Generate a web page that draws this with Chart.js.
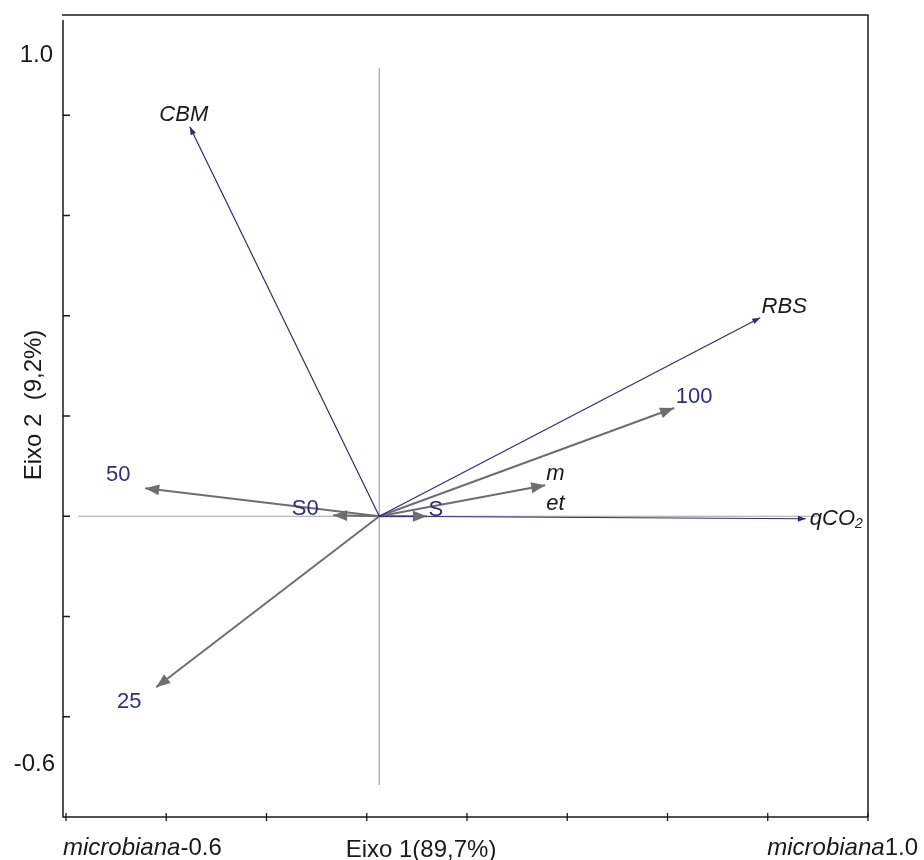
<!DOCTYPE html>
<html>
<head>
<meta charset="utf-8">
<script src="https://cdn.jsdelivr.net/npm/chart.js@4.4.1/dist/chart.umd.min.js"></script>
<style>
  body { margin: 0; background: #fff; }
  canvas { display: block; }
</style>
</head>
<body>
<canvas id="biplot" width="924" height="860"></canvas>
<script>
// Biplot - eixo 1 x eixo 2
const originX = 0.025;
const originY = 0;

// variaveis (setas azuis)
const varNames = ['CBM', 'RBS', 'qCO2'];
const varX = [-0.353, 0.785, 0.876];
const varY = [0.777, 0.396, -0.005];

// tratamentos (setas cinza)
const trtNames = ['50', 'S0', 'S', '25', '100', 'met'];
const trtX = [-0.442, -0.067, 0.120, -0.420, 0.613, 0.356];
const trtY = [0.056, 0.002, 0.0, -0.341, 0.216, 0.062];

const axisTicks = [-0.6, -0.4, -0.2, 0, 0.2, 0.4, 0.6, 0.8, 1.0];
const xTickLabels = ['microbiana-0.6', 'microbiana1.0'];
const yTickLabels = ['1.0', '-0.6'];

// linhas de referencia
const crossH = [-0.576, 0.900];
const crossV = [0.894, -0.536];

const navy = '#2b2d74';
const grey = '#6e6e72';
const labelNavy = '#2e3276';

// deslocamento dos rotulos (px) a partir da ponta da seta
const varLabelOffset = [[-6, -12], [24, -11], [4, 0]];
const trtLabelOffset = [[-27, -13], [-28, -6], [9, -6], [-27, 15], [20, -11], [1, 0]];

const datasets = [];
varNames.forEach((n, i) => {
  datasets.push({
    label: n, kind: 'var', idx: i,
    data: [{ x: originX, y: originY }, { x: varX[i], y: varY[i] }],
    showLine: true, borderColor: navy, borderWidth: 1.2, pointRadius: 0, order: 1
  });
});
trtNames.forEach((n, i) => {
  datasets.push({
    label: n, kind: 'trt', idx: i,
    data: [{ x: originX, y: originY }, { x: trtX[i], y: trtY[i] }],
    showLine: true, borderColor: grey, borderWidth: 2, pointRadius: 0, order: 2
  });
});
datasets.push({
  label: 'h', kind: 'ref',
  data: [{ x: crossH[0], y: originY }, { x: crossH[1], y: originY }],
  showLine: true, borderColor: '#a3a3a3', borderWidth: 1.2, pointRadius: 0, order: 5
});
datasets.push({
  label: 'v', kind: 'ref',
  data: [{ x: originX, y: crossV[0] }, { x: originX, y: crossV[1] }],
  showLine: true, borderColor: '#a3a3a3', borderWidth: 1.2, pointRadius: 0, order: 5
});

function arrowHead(ctx, x0, y0, x1, y1, len, half, color) {
  const a = Math.atan2(y1 - y0, x1 - x0);
  ctx.save();
  ctx.translate(x1, y1);
  ctx.rotate(a);
  ctx.fillStyle = color;
  ctx.beginPath();
  ctx.moveTo(0, 0);
  ctx.lineTo(-len, -half);
  ctx.lineTo(-len, half);
  ctx.closePath();
  ctx.fill();
  ctx.restore();
}

const frame = {
  id: 'frame',
  afterDatasetsDraw(chart) {
    const ctx = chart.ctx;
    const xs = chart.scales.x, ys = chart.scales.y;
    const a = chart.chartArea;

    // setas e rotulos
    chart.data.datasets.forEach((ds, di) => {
      if (ds.kind === 'ref') return;
      const pts = chart.getDatasetMeta(di).data;
      const p0 = pts[0], p1 = pts[1];
      if (ds.kind === 'var') {
        arrowHead(ctx, p0.x, p0.y, p1.x, p1.y, 8, 3, navy);
        const off = varLabelOffset[ds.idx];
        ctx.save();
        ctx.fillStyle = '#1a1a1a';
        ctx.font = 'italic 22px "Liberation Sans", Arial, sans-serif';
        ctx.textBaseline = 'middle';
        if (ds.label === 'qCO2') {
          ctx.textAlign = 'left';
          ctx.fillText('qCO', p1.x + off[0], p1.y + off[1]);
          const w = ctx.measureText('qCO').width;
          ctx.font = 'italic 14px "Liberation Sans", Arial, sans-serif';
          ctx.fillText('2', p1.x + off[0] + w, p1.y + off[1] + 5);
        } else {
          ctx.textAlign = 'center';
          ctx.fillText(ds.label, p1.x + off[0], p1.y + off[1]);
        }
        ctx.restore();
      } else {
        arrowHead(ctx, p0.x, p0.y, p1.x, p1.y, 14, 5.5, grey);
        const off = trtLabelOffset[ds.idx];
        ctx.save();
        if (ds.label === 'met') {
          ctx.fillStyle = '#1a1a1a';
          ctx.font = 'italic 22px "Liberation Sans", Arial, sans-serif';
          ctx.textAlign = 'left';
          ctx.textBaseline = 'alphabetic';
          ctx.fillText('m', p1.x + off[0], p1.y - 5);
          ctx.fillText('et', p1.x + off[0], p1.y + 25);
        } else {
          ctx.fillStyle = labelNavy;
          ctx.font = '22px "Liberation Sans", Arial, sans-serif';
          ctx.textAlign = 'center';
          ctx.textBaseline = 'middle';
          ctx.fillText(ds.label, p1.x + off[0], p1.y + off[1]);
        }
        ctx.restore();
      }
    });

    // moldura
    ctx.save();
    ctx.strokeStyle = '#1a1a1a';
    ctx.lineWidth = 1.5;
    ctx.beginPath();
    ctx.moveTo(a.left - 4, a.top);
    ctx.lineTo(a.right, a.top);
    ctx.lineTo(a.right, a.bottom);
    ctx.moveTo(a.left - 3, a.top + 5);
    ctx.lineTo(a.left - 3, a.bottom);
    ctx.lineTo(a.right, a.bottom);
    ctx.stroke();

    ctx.lineWidth = 1.3;
    ctx.beginPath();
    axisTicks.forEach(v => {
      const px = xs.getPixelForValue(v);
      ctx.moveTo(px, a.bottom - 4);
      ctx.lineTo(px, a.bottom + 4);
      const py = ys.getPixelForValue(v);
      if (v > -0.6 && v < 1.0) {
        ctx.moveTo(a.left - 3, py);
        ctx.lineTo(a.left + 4, py);
      }
    });
    ctx.stroke();

    // textos dos eixos
    ctx.fillStyle = '#1a1a1a';
    ctx.font = '24px "Liberation Sans", Arial, sans-serif';
    ctx.textBaseline = 'middle';
    ctx.textAlign = 'right';
    ctx.fillText(yTickLabels[0], a.left - 13, ys.getPixelForValue(0.92));
    ctx.fillText(yTickLabels[1], a.left - 11, ys.getPixelForValue(-0.496));

    ctx.textBaseline = 'alphabetic';
    const base = a.bottom + 38;
    const drawMixed = (lbl, x, align) => {
      const m = lbl.match(/^([a-z]+)(.*)$/);
      ctx.font = 'italic 24px "Liberation Sans", Arial, sans-serif';
      const w1 = ctx.measureText(m[1]).width;
      ctx.font = '24px "Liberation Sans", Arial, sans-serif';
      const w2 = ctx.measureText(m[2]).width;
      const start = align === 'left' ? x : x - w1 - w2;
      ctx.textAlign = 'left';
      ctx.font = 'italic 24px "Liberation Sans", Arial, sans-serif';
      ctx.fillText(m[1], start, base);
      ctx.font = '24px "Liberation Sans", Arial, sans-serif';
      ctx.fillText(m[2], start + w1, base);
    };
    drawMixed(xTickLabels[0], xs.getPixelForValue(-0.6) - 3, 'left');
    drawMixed(xTickLabels[1], xs.getPixelForValue(1.0) + 50, 'right');

    ctx.font = '24px "Liberation Sans", Arial, sans-serif';
    ctx.textAlign = 'center';
    ctx.fillText('Eixo 1(89,7%)', 421, base + 2);

    ctx.translate(34, 405);
    ctx.rotate(-Math.PI / 2);
    ctx.textBaseline = 'middle';
    ctx.fillText('Eixo 2  (9,2%)', 0, 0);
    ctx.restore();
  }
};

new Chart(document.getElementById('biplot'), {
  type: 'scatter',
  data: { datasets },
  options: {
    responsive: false,
    animation: false,
    layout: { padding: { left: 66, top: 15, right: 56, bottom: 43 } },
    plugins: { legend: { display: false }, tooltip: { enabled: false } },
    scales: {
      x: { type: 'linear', min: -0.6, max: 1.0, display: false },
      y: { type: 'linear', min: -0.6, max: 1.0, display: false }
    }
  },
  plugins: [frame]
});
</script>
</body>
</html>
